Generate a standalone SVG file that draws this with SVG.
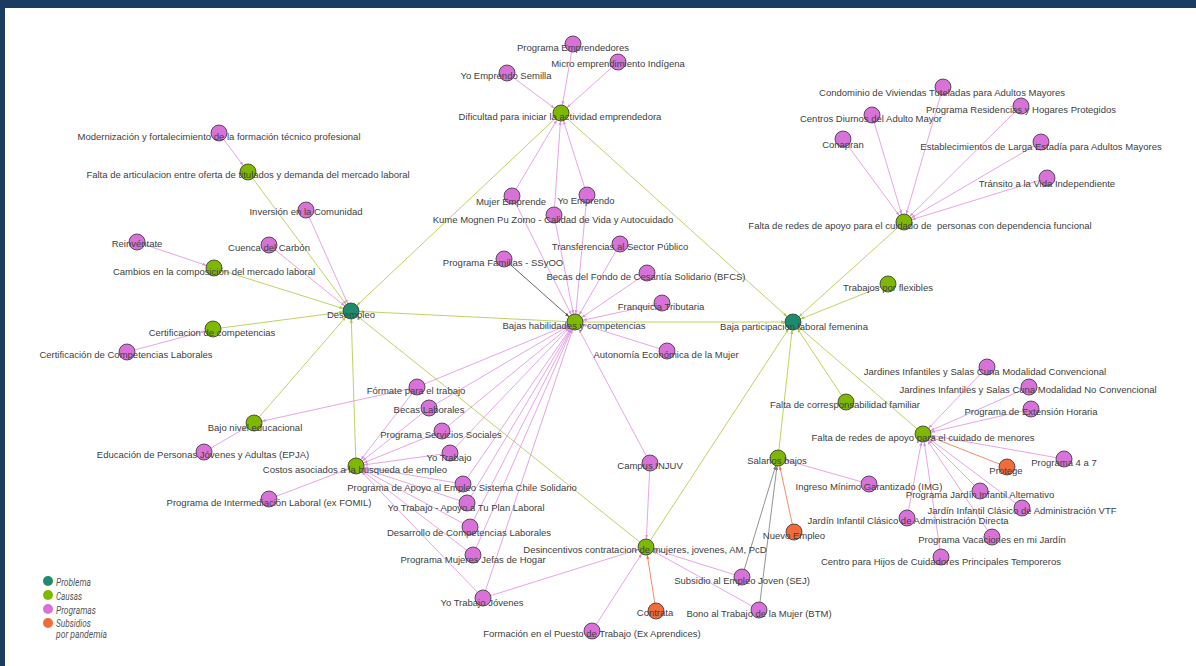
<svg xmlns="http://www.w3.org/2000/svg" width="1196" height="666" viewBox="0 0 1196 666">
<defs>
<style>
.edge{stroke-width:0.8;fill:none}
.eg{stroke:#a9c83c;marker-end:url(#aG)}
.ep{stroke:#e08ee0;marker-end:url(#aP)}
.eo{stroke:#f07040;marker-end:url(#aO)}
.ek{stroke:#444;marker-end:url(#aK)}
.ey{stroke:#777;marker-end:url(#aY)}
.n circle{stroke:#333;stroke-width:0.8}
.prob circle{fill:#1e8c6c}
.cause circle{fill:#7fb800}
.prog circle{fill:#d872d8}
.sub circle{fill:#f26b3a}
.n text{font-family:"Liberation Sans",Arial,sans-serif;font-size:9.5px;fill:#404040;text-anchor:middle;dominant-baseline:central}
.lg text{font-family:Roboto,"Liberation Sans",sans-serif;font-style:italic;font-size:10.5px;fill:#555}
</style>
<marker id="aG" markerUnits="userSpaceOnUse" viewBox="0 0 12 4" markerWidth="12" markerHeight="4" refX="12" refY="2" orient="auto"><path d="M0,0.5 L4,2 L0,3.5 z" fill="#a9c83c"/></marker>
<marker id="aP" markerUnits="userSpaceOnUse" viewBox="0 0 12 4" markerWidth="12" markerHeight="4" refX="12" refY="2" orient="auto"><path d="M0,0.5 L4,2 L0,3.5 z" fill="#e08ee0"/></marker>
<marker id="aO" markerUnits="userSpaceOnUse" viewBox="0 0 12 4" markerWidth="12" markerHeight="4" refX="12" refY="2" orient="auto"><path d="M0,0.5 L4,2 L0,3.5 z" fill="#f07040"/></marker>
<marker id="aK" markerUnits="userSpaceOnUse" viewBox="0 0 12 4" markerWidth="12" markerHeight="4" refX="12" refY="2" orient="auto"><path d="M0,0.5 L4,2 L0,3.5 z" fill="#444"/></marker>
<marker id="aY" markerUnits="userSpaceOnUse" viewBox="0 0 12 4" markerWidth="12" markerHeight="4" refX="12" refY="2" orient="auto"><path d="M0,0.5 L4,2 L0,3.5 z" fill="#777"/></marker>
</defs>
<rect x="0" y="0" width="1196" height="666" fill="#1b3b60"/>
<rect x="5" y="8" width="1191" height="658" fill="#ffffff"/>

<g id="connectors">
<line class="edge eg" x1="248" y1="172" x2="351" y2="311"/>
<line class="edge eg" x1="214" y1="268" x2="351" y2="311"/>
<line class="edge eg" x1="213" y1="329" x2="351" y2="311"/>
<line class="edge eg" x1="254" y1="423" x2="351" y2="311"/>
<line class="edge eg" x1="356" y1="466" x2="351" y2="311"/>
<line class="edge eg" x1="561" y1="113" x2="351" y2="311"/>
<line class="edge eg" x1="575" y1="322" x2="351" y2="311"/>
<line class="edge eg" x1="646" y1="547" x2="351" y2="311"/>
<line class="edge eg" x1="561" y1="113" x2="793" y2="322"/>
<line class="edge eg" x1="575" y1="322" x2="793" y2="322"/>
<line class="edge eg" x1="646" y1="547" x2="793" y2="322"/>
<line class="edge eg" x1="778" y1="458" x2="793" y2="322"/>
<line class="edge eg" x1="846" y1="402" x2="793" y2="322"/>
<line class="edge eg" x1="923" y1="434" x2="793" y2="322"/>
<line class="edge eg" x1="888" y1="284" x2="793" y2="322"/>
<line class="edge eg" x1="904" y1="222" x2="793" y2="322"/>
<line class="edge ep" x1="219" y1="133" x2="248" y2="172"/>
<line class="edge ep" x1="306" y1="210" x2="351" y2="311"/>
<line class="edge ep" x1="269" y1="245" x2="351" y2="311"/>
<line class="edge ep" x1="137" y1="242" x2="214" y2="268"/>
<line class="edge ep" x1="127" y1="352" x2="213" y2="329"/>
<line class="edge ep" x1="204" y1="452" x2="254" y2="423"/>
<line class="edge ep" x1="417" y1="387" x2="254" y2="423"/>
<line class="edge ep" x1="269" y1="499" x2="356" y2="466"/>
<line class="edge ep" x1="417" y1="387" x2="356" y2="466"/>
<line class="edge ep" x1="429" y1="408" x2="356" y2="466"/>
<line class="edge ep" x1="442" y1="431" x2="356" y2="466"/>
<line class="edge ep" x1="450" y1="453" x2="356" y2="466"/>
<line class="edge ep" x1="463" y1="484" x2="356" y2="466"/>
<line class="edge ep" x1="467" y1="503" x2="356" y2="466"/>
<line class="edge ep" x1="470" y1="527" x2="356" y2="466"/>
<line class="edge ep" x1="473" y1="555" x2="356" y2="466"/>
<line class="edge ep" x1="483" y1="598" x2="356" y2="466"/>
<line class="edge ep" x1="417" y1="387" x2="575" y2="322"/>
<line class="edge ep" x1="429" y1="408" x2="575" y2="322"/>
<line class="edge ep" x1="442" y1="431" x2="575" y2="322"/>
<line class="edge ep" x1="450" y1="453" x2="575" y2="322"/>
<line class="edge ep" x1="463" y1="484" x2="575" y2="322"/>
<line class="edge ep" x1="467" y1="503" x2="575" y2="322"/>
<line class="edge ep" x1="470" y1="527" x2="575" y2="322"/>
<line class="edge ep" x1="473" y1="555" x2="575" y2="322"/>
<line class="edge ep" x1="483" y1="598" x2="575" y2="322"/>
<line class="edge ep" x1="483" y1="598" x2="646" y2="547"/>
<line class="edge ep" x1="650" y1="463" x2="575" y2="322"/>
<line class="edge ep" x1="650" y1="463" x2="646" y2="547"/>
<line class="edge ep" x1="667" y1="351" x2="575" y2="322"/>
<line class="edge ep" x1="662" y1="303" x2="575" y2="322"/>
<line class="edge ep" x1="647" y1="273" x2="575" y2="322"/>
<line class="edge ep" x1="620" y1="244" x2="575" y2="322"/>
<line class="edge ep" x1="554" y1="215" x2="575" y2="322"/>
<line class="edge ep" x1="512" y1="196" x2="575" y2="322"/>
<line class="edge ep" x1="587" y1="195" x2="575" y2="322"/>
<line class="edge ep" x1="507" y1="73" x2="561" y2="113"/>
<line class="edge ep" x1="573" y1="44" x2="561" y2="113"/>
<line class="edge ep" x1="618" y1="62" x2="561" y2="113"/>
<line class="edge ep" x1="512" y1="196" x2="561" y2="113"/>
<line class="edge ep" x1="554" y1="215" x2="561" y2="113"/>
<line class="edge ep" x1="587" y1="195" x2="561" y2="113"/>
<line class="edge ep" x1="592" y1="631" x2="646" y2="547"/>
<line class="edge ep" x1="742" y1="577" x2="646" y2="547"/>
<line class="edge ep" x1="759" y1="610" x2="646" y2="547"/>
<line class="edge ep" x1="869" y1="484" x2="778" y2="458"/>
<line class="edge ep" x1="943" y1="87" x2="904" y2="222"/>
<line class="edge ep" x1="1021" y1="106" x2="904" y2="222"/>
<line class="edge ep" x1="872" y1="115" x2="904" y2="222"/>
<line class="edge ep" x1="843" y1="139" x2="904" y2="222"/>
<line class="edge ep" x1="1041" y1="142" x2="904" y2="222"/>
<line class="edge ep" x1="1047" y1="178" x2="904" y2="222"/>
<line class="edge ep" x1="987" y1="367" x2="923" y2="434"/>
<line class="edge ep" x1="1029" y1="387" x2="923" y2="434"/>
<line class="edge ep" x1="1031" y1="409" x2="923" y2="434"/>
<line class="edge ep" x1="1064" y1="459" x2="923" y2="434"/>
<line class="edge ep" x1="980" y1="491" x2="923" y2="434"/>
<line class="edge ep" x1="1022" y1="508" x2="923" y2="434"/>
<line class="edge ep" x1="907" y1="518" x2="923" y2="434"/>
<line class="edge ep" x1="992" y1="537" x2="923" y2="434"/>
<line class="edge ep" x1="941" y1="557" x2="923" y2="434"/>
<line class="edge ek" x1="504" y1="259" x2="575" y2="322"/>
<line class="edge ey" x1="742" y1="577" x2="778" y2="458"/>
<line class="edge ey" x1="759" y1="610" x2="778" y2="458"/>
<line class="edge eo" x1="1007" y1="467" x2="923" y2="434"/>
<line class="edge eo" x1="794" y1="532" x2="778" y2="458"/>
<line class="edge eo" x1="656" y1="611" x2="646" y2="547"/>
</g>

<g id="n-modernizacion" class="n prog"><circle cx="219" cy="133" r="8"/><text x="219" y="136">Modernización y fortalecimiento de la formación técnico profesional</text></g>
<g id="n-inversion" class="n prog"><circle cx="306" cy="210" r="8"/><text x="306" y="211">Inversión en la Comunidad</text></g>
<g id="n-reinventate" class="n prog"><circle cx="137" cy="242" r="8"/><text x="137" y="243">Reinvéntate</text></g>
<g id="n-cuenca" class="n prog"><circle cx="269" cy="245" r="8"/><text x="269" y="247">Cuenca del Carbón</text></g>
<g id="n-certlab" class="n prog"><circle cx="127" cy="352" r="8"/><text x="126" y="354">Certificación de Competencias Laborales</text></g>
<g id="n-epja" class="n prog"><circle cx="204" cy="452" r="8"/><text x="203" y="454">Educación de Personas Jóvenes y Adultas (EPJA)</text></g>
<g id="n-intermediacion" class="n prog"><circle cx="269" cy="499" r="8"/><text x="269" y="502">Programa de Intermediación Laboral (ex FOMIL)</text></g>
<g id="n-formate" class="n prog"><circle cx="417" cy="387" r="8"/><text x="416" y="390">Fórmate para el trabajo</text></g>
<g id="n-becaslab" class="n prog"><circle cx="429" cy="408" r="8"/><text x="429" y="409">Becas Laborales</text></g>
<g id="n-servicios" class="n prog"><circle cx="442" cy="431" r="8"/><text x="441" y="434">Programa Servicios Sociales</text></g>
<g id="n-yotrabajo" class="n prog"><circle cx="450" cy="453" r="8"/><text x="449" y="457">Yo Trabajo</text></g>
<g id="n-apoyoempleo" class="n prog"><circle cx="463" cy="484" r="8"/><text x="462" y="487">Programa de Apoyo al Empleo Sistema Chile Solidario</text></g>
<g id="n-yotrabajoapoyo" class="n prog"><circle cx="467" cy="503" r="8"/><text x="466" y="507">Yo Trabajo - Apoyo a Tu Plan Laboral</text></g>
<g id="n-desarrollo" class="n prog"><circle cx="470" cy="527" r="8"/><text x="469" y="532">Desarrollo de Competencias Laborales</text></g>
<g id="n-mujeresjefas" class="n prog"><circle cx="473" cy="555" r="8"/><text x="473" y="559">Programa Mujeres Jefas de Hogar</text></g>
<g id="n-yotrabajojovenes" class="n prog"><circle cx="483" cy="598" r="8"/><text x="482" y="602">Yo Trabajo Jóvenes</text></g>
<g id="n-semilla" class="n prog"><circle cx="507" cy="73" r="8"/><text x="506" y="75">Yo Emprendo Semilla</text></g>
<g id="n-emprendedores" class="n prog"><circle cx="573" cy="44" r="8"/><text x="573" y="47">Programa Emprendedores</text></g>
<g id="n-micro" class="n prog"><circle cx="618" cy="62" r="8"/><text x="618" y="63">Micro emprendimiento Indígena</text></g>
<g id="n-mujeremprende" class="n prog"><circle cx="512" cy="196" r="8"/><text x="511" y="201">Mujer Emprende</text></g>
<g id="n-yoemprendo" class="n prog"><circle cx="587" cy="195" r="8"/><text x="586" y="200">Yo Emprendo</text></g>
<g id="n-kume" class="n prog"><circle cx="554" cy="215" r="8"/><text x="553" y="219">Kume Mognen Pu Zomo - Calidad de Vida y Autocuidado</text></g>
<g id="n-transferencias" class="n prog"><circle cx="620" cy="244" r="8"/><text x="620" y="246">Transferencias al Sector Público</text></g>
<g id="n-familias" class="n prog"><circle cx="504" cy="259" r="8"/><text x="503" y="262">Programa Familias - SSyOO</text></g>
<g id="n-bfcs" class="n prog"><circle cx="647" cy="273" r="8"/><text x="646" y="276">Becas del Fondo de Cesantía Solidario (BFCS)</text></g>
<g id="n-franquicia" class="n prog"><circle cx="662" cy="303" r="8"/><text x="661" y="306">Franquicia Tributaria</text></g>
<g id="n-autonomia" class="n prog"><circle cx="667" cy="351" r="8"/><text x="666" y="354">Autonomía Económica de la Mujer</text></g>
<g id="n-campus" class="n prog"><circle cx="650" cy="463" r="8"/><text x="650" y="465">Campus INJUV</text></g>
<g id="n-formacion" class="n prog"><circle cx="592" cy="631" r="8"/><text x="592" y="633">Formación en el Puesto de Trabajo (Ex Aprendices)</text></g>
<g id="n-sej" class="n prog"><circle cx="742" cy="577" r="8"/><text x="742" y="580">Subsidio al Empleo Joven (SEJ)</text></g>
<g id="n-btm" class="n prog"><circle cx="759" cy="610" r="8"/><text x="759" y="613">Bono al Trabajo de la Mujer (BTM)</text></g>
<g id="n-img" class="n prog"><circle cx="869" cy="484" r="8"/><text x="869" y="486">Ingreso Mínimo Garantizado (IMG)</text></g>
<g id="n-condominio" class="n prog"><circle cx="943" cy="87" r="8"/><text x="942" y="92">Condominio de Viviendas Tuteladas para Adultos Mayores</text></g>
<g id="n-residencias" class="n prog"><circle cx="1021" cy="106" r="8"/><text x="1021" y="109">Programa Residencias y Hogares Protegidos</text></g>
<g id="n-centrosdiurnos" class="n prog"><circle cx="872" cy="115" r="8"/><text x="871" y="118">Centros Diurnos del Adulto Mayor</text></g>
<g id="n-conapran" class="n prog"><circle cx="843" cy="139" r="8"/><text x="843" y="144">Conapran</text></g>
<g id="n-establecimientos" class="n prog"><circle cx="1041" cy="142" r="8"/><text x="1041" y="146">Establecimientos de Larga Estadía para Adultos Mayores</text></g>
<g id="n-transito" class="n prog"><circle cx="1047" cy="178" r="8"/><text x="1047" y="183">Tránsito a la Vida Independiente</text></g>
<g id="n-jardconv" class="n prog"><circle cx="987" cy="367" r="8"/><text x="985" y="371">Jardines Infantiles y Salas Cuna Modalidad Convencional</text></g>
<g id="n-jardnoconv" class="n prog"><circle cx="1029" cy="387" r="8"/><text x="1028" y="389">Jardines Infantiles y Salas Cuna Modalidad No Convencional</text></g>
<g id="n-extension" class="n prog"><circle cx="1031" cy="409" r="8"/><text x="1031" y="411">Programa de Extensión Horaria</text></g>
<g id="n-p4a7" class="n prog"><circle cx="1064" cy="459" r="8"/><text x="1064" y="462">Programa 4 a 7</text></g>
<g id="n-alternativo" class="n prog"><circle cx="980" cy="491" r="8"/><text x="980" y="494">Programa Jardín Infantil Alternativo</text></g>
<g id="n-vtf" class="n prog"><circle cx="1022" cy="508" r="8"/><text x="1022" y="510">Jardín Infantil Clásico de Administración VTF</text></g>
<g id="n-directa" class="n prog"><circle cx="907" cy="518" r="8"/><text x="908" y="520">Jardín Infantil Clásico de Administración Directa</text></g>
<g id="n-vacaciones" class="n prog"><circle cx="992" cy="537" r="8"/><text x="992" y="539">Programa Vacaciones en mi Jardín</text></g>
<g id="n-centrohijos" class="n prog"><circle cx="941" cy="557" r="8"/><text x="941" y="561">Centro para Hijos de Cuidadores Principales Temporeros</text></g>

<g id="n-protege" class="n sub"><circle cx="1007" cy="467" r="8"/><text x="1006" y="470">Protege</text></g>
<g id="n-nuevoempleo" class="n sub"><circle cx="794" cy="532" r="8"/><text x="794" y="535">Nuevo Empleo</text></g>
<g id="n-contrata" class="n sub"><circle cx="656" cy="611" r="8"/><text x="655" y="612">Contrata</text></g>

<g id="n-dificultad" class="n cause"><circle cx="561" cy="113" r="8"/><text x="560" y="116">Dificultad para iniciar la actividad emprendedora</text></g>
<g id="n-articulacion" class="n cause"><circle cx="248" cy="172" r="8"/><text x="248" y="174">Falta de articulacion entre oferta de titulados y demanda del mercado laboral</text></g>
<g id="n-cambios" class="n cause"><circle cx="214" cy="268" r="8"/><text x="214" y="271">Cambios en la composición del mercado laboral</text></g>
<g id="n-certificacion" class="n cause"><circle cx="213" cy="329" r="8"/><text x="212" y="332">Certificacion de competencias</text></g>
<g id="n-bajonivel" class="n cause"><circle cx="254" cy="423" r="8"/><text x="255" y="427">Bajo nivel educacional</text></g>
<g id="n-costos" class="n cause"><circle cx="356" cy="466" r="8"/><text x="355" y="469">Costos asociados a la busqueda de empleo</text></g>
<g id="n-bajas" class="n cause"><circle cx="575" cy="322" r="8"/><text x="574" y="325">Bajas habilidades y competencias</text></g>
<g id="n-redespersonas" class="n cause"><circle cx="904" cy="222" r="8"/><text x="920" y="225" xml:space="preserve">Falta de redes de apoyo para el cuidado de  personas con dependencia funcional</text></g>
<g id="n-flexibles" class="n cause"><circle cx="888" cy="284" r="8"/><text x="888" y="287">Trabajos por flexibles</text></g>
<g id="n-corresp" class="n cause"><circle cx="846" cy="402" r="8"/><text x="845" y="404">Falta de corresponsabilidad familiar</text></g>
<g id="n-redesmenores" class="n cause"><circle cx="923" cy="434" r="8"/><text x="923" y="437">Falta de redes de apoyo para el cuidado de menores</text></g>
<g id="n-salarios" class="n cause"><circle cx="778" cy="458" r="8"/><text x="777" y="460">Salarios bajos</text></g>
<g id="n-desincentivos" class="n cause"><circle cx="646" cy="547" r="8"/><text x="645" y="549">Desincentivos contratacion de mujeres, jovenes, AM, PcD</text></g>

<g id="n-desempleo" class="n prob"><circle cx="351" cy="311" r="8"/><text x="351" y="314">Desempleo</text></g>
<g id="n-baja" class="n prob"><circle cx="793" cy="322" r="8"/><text x="794" y="326">Baja participacion laboral femenina</text></g>

<g id="legend" class="lg">
<circle cx="48" cy="581" r="5" fill="#1e8c6c"/>
<circle cx="48" cy="595" r="5" fill="#7fb800"/>
<circle cx="48" cy="609" r="5" fill="#d872d8"/>
<circle cx="48" cy="623" r="5" fill="#f26b3a"/>
<text x="56" y="586" textLength="35" lengthAdjust="spacingAndGlyphs">Problema</text>
<text x="56" y="600" textLength="26" lengthAdjust="spacingAndGlyphs">Causas</text>
<text x="56" y="614" textLength="40" lengthAdjust="spacingAndGlyphs">Programas</text>
<text x="56" y="627" textLength="35" lengthAdjust="spacingAndGlyphs">Subsidios</text>
<text x="56" y="638" textLength="51" lengthAdjust="spacingAndGlyphs">por pandemia</text>
</g>
</svg>
